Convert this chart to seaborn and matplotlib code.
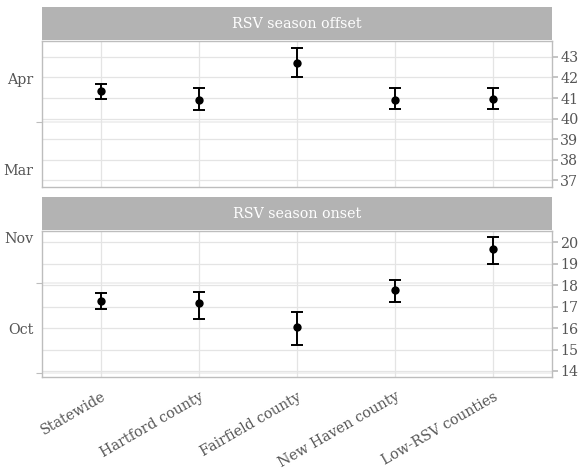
import matplotlib
matplotlib.use("Agg")
import matplotlib.pyplot as plt
import seaborn as sns
import numpy as np
import pandas as pd

sns.set_theme(style="white")
plt.rcParams['font.family'] = ['DejaVu Serif']

categories = ["Statewide", "Hartford county", "Fairfield county", "New Haven county", "Low-RSV counties"]

offset_est = [41.32, 40.92, 42.71, 40.92, 40.97]
offset_lo = [40.95, 40.42, 42.00, 40.47, 40.47]
offset_hi = [41.67, 41.51, 43.45, 41.51, 41.50]

onset_est = [17.28, 17.17, 16.05, 17.75, 19.69]
onset_lo = [16.87, 16.42, 15.20, 17.19, 18.98]
onset_hi = [17.62, 17.70, 16.75, 18.25, 20.25]

offset_weeks = [37, 38, 39, 40, 41, 42, 43]
onset_weeks = [14, 15, 16, 17, 18, 19, 20]
offset_month_labels = ["Mar", "Apr"]
offset_month_pos = [37.5, 41.94]
onset_month_labels = ["Oct", "Nov"]
onset_month_pos = [15.96, 20.2]
offset_minor = [39.85]
onset_minor = [18.12, 13.9]

W, H = 579, 469
fig = plt.figure(figsize=(W / 100, H / 100), dpi=100)

txt_col = "#555555"
grid_col = "#e4e4e4"
frame_col = "#bdbdbd"
strip_col = "#b3b3b3"
fs = 10.3

def fr(x0, y0, x1, y1):
    return [x0 / W, 1 - y1 / H, (x1 - x0) / W, (y1 - y0) / H]

panels = [
    dict(title="RSV season offset", est=offset_est, lo=offset_lo, hi=offset_hi,
         weeks=offset_weeks, ylim=(36.66, 43.78), mlab=offset_month_labels,
         mpos=offset_month_pos, minor=offset_minor, box=(42, 41, 552, 187),
         strip=(42, 7, 552, 40), xt=False),
    dict(title="RSV season onset", est=onset_est, lo=onset_lo, hi=onset_hi,
         weeks=onset_weeks, ylim=(13.72, 20.52), mlab=onset_month_labels,
         mpos=onset_month_pos, minor=onset_minor, box=(42, 231, 552, 377),
         strip=(42, 197, 552, 230), xt=True),
]

for p in panels:
    ax = fig.add_axes(fr(*p["box"]))
    df = pd.DataFrame({"cat": categories, "est": p["est"]})
    x = np.arange(len(categories))
    est = np.array(p["est"])
    lo = np.array(p["lo"])
    hi = np.array(p["hi"])
    # grid
    for w in p["weeks"]:
        ax.axhline(w, color=grid_col, lw=0.9, zorder=0)
    for m in p["minor"]:
        ax.axhline(m, color="#efefef", lw=1.3, zorder=0)
    for xi in x:
        ax.axvline(xi, color=grid_col, lw=0.9, zorder=0)
    ax.errorbar(x, est, yerr=[est - lo, hi - est], fmt="none", ecolor="black",
                elinewidth=1.4, capsize=4, capthick=1.4, zorder=3)
    sns.scatterplot(data=df, x=np.arange(len(categories)), y="est", ax=ax,
                    color="black", s=36, edgecolor="black", linewidth=0, zorder=4)
    ax.set_xlim(-0.6, 4.6)
    ax.set_ylim(*p["ylim"])
    ax.set_xlabel("")
    ax.set_ylabel("")
    ax.yaxis.tick_right()
    ax.set_yticks(p["weeks"])
    ax.set_yticklabels([str(w) for w in p["weeks"]])
    ax.tick_params(axis="y", which="major", right=True, left=False, length=4,
                   color=frame_col, labelsize=fs, labelcolor=txt_col, pad=2)
    ax.set_xticks(x)
    if p["xt"]:
        ax.set_xticklabels(categories, rotation=30, ha="right", rotation_mode="anchor")
        ax.tick_params(axis="x", bottom=True, length=0, labelsize=fs,
                       labelcolor=txt_col, pad=9)
    else:
        ax.set_xticklabels([])
        ax.tick_params(axis="x", length=0)
    for s in ax.spines.values():
        s.set_color(frame_col)
        s.set_linewidth(1.0)
    sec = ax.secondary_yaxis("left")
    sec.set_yticks(p["mpos"])
    sec.set_yticklabels(p["mlab"])
    sec.set_yticks(p["minor"], minor=True)
    sec.tick_params(axis="y", which="major", length=0, labelsize=fs,
                    labelcolor=txt_col, pad=6)
    sec.tick_params(axis="y", which="minor", length=4, color=frame_col, width=0.8)
    sec.spines["left"].set_visible(False)
    # strip
    sax = fig.add_axes(fr(*p["strip"]))
    sax.set_facecolor(strip_col)
    sax.set_xticks([])
    sax.set_yticks([])
    for s in sax.spines.values():
        s.set_visible(False)
    sax.text(0.5, 0.5, p["title"], color="white", ha="center", va="center",
             fontsize=fs, transform=sax.transAxes)

fig.savefig("out.png", dpi=100)
